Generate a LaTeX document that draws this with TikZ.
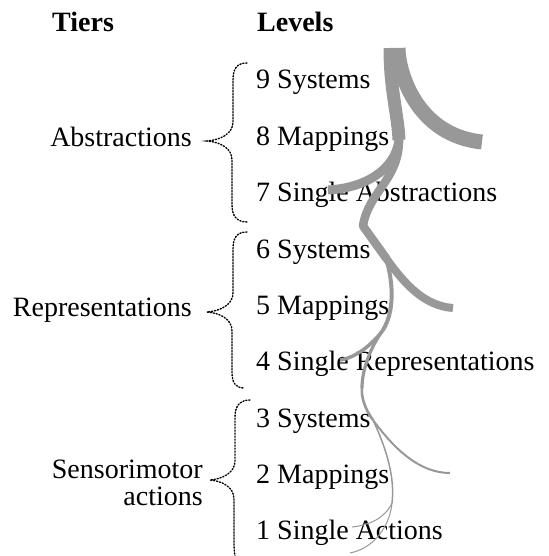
\documentclass[tikz,border=0pt]{standalone}
\usepackage{fontspec}
\setmainfont{Liberation Serif}
\begin{document}
\begin{tikzpicture}[x=1pt,y=-1pt,
  lbl/.style={anchor=base west,inner sep=0pt,font=\rmfamily\fontsize{28}{28}\selectfont},
  tier/.style={anchor=base east,inner sep=0pt,font=\rmfamily\fontsize{28}{28}\selectfont},
  head/.style={anchor=base west,inner sep=0pt,font=\rmfamily\fontsize{28}{28}\selectfont\bfseries},
  bracepath/.style={line width=1.4pt,dash pattern=on 1.2pt off 1.8pt,line cap=round},
  twig/.style={draw=treegray,line cap=butt}]
\definecolor{treegray}{RGB}{152,152,152}
\useasboundingbox (0,0) rectangle (548,556);

% headers
\node[head] (hT) at (52,32) {Tiers};
\node[head] (hL) at (257,32) {Levels};

% levels
\node[lbl] (l9) at (256,89) {9 Systems};
\node[lbl] (l8) at (256,145.3) {8 Mappings};
\node[lbl] (l7) at (256,201.6) {7 Single Abstractions};
\node[lbl] (l6) at (256,258) {6 Systems};
\node[lbl] (l5) at (256,314) {5 Mappings};
\node[lbl] (l4) at (256,370.5) {4 Single Representations};
\node[lbl] (l3) at (256,427) {3 Systems};
\node[lbl] (l2) at (256,483) {2 Mappings};
\node[lbl] (l1) at (256,539.5) {1 Single Actions};

% tiers
\node[tier] (tA) at (192,147) {Abstractions};
\node[tier] (tR) at (192,316) {Representations};
\node[tier] (tS) at (203,478) {Sensorimotor};
\node[tier] (tS2) at (203,505) {actions};

% braces
\draw[bracepath] (247,63) .. controls (236,63) and (233,70) .. (233,80) -- (233,122)
  .. controls (233,134) and (220,140) .. (207,141)
  .. controls (220,142) and (232,148) .. (232,160) -- (232,205)
  .. controls (232,215) and (236,222) .. (247,222);
\draw[bracepath] (247,232) .. controls (236,232) and (233,239) .. (233,249) -- (233,293)
  .. controls (233,305) and (220,311) .. (207,312)
  .. controls (220,313) and (232,319) .. (232,331) -- (232,372)
  .. controls (232,382) and (235,388) .. (244,388);
\draw[bracepath] (250,400) .. controls (239,400) and (235,407) .. (235,417) -- (235,461)
  .. controls (235,473) and (222,479) .. (210,480)
  .. controls (222,481) and (234,487) .. (234,499) -- (234,545)
  .. controls (234,555) and (236,562) .. (240,566);

% tree: tier 1
\coordinate (s1) at (390,48);
\coordinate (s1r) at (398,48);
\coordinate (p1) at (399,140);
\coordinate (r1) at (482,142);
\coordinate (a1) at (328,190);
\coordinate (e2) at (363,226);
\draw[twig,line width=15pt] (s1r) .. controls (398,70) and (415,135) .. (r1);
\draw[twig,line width=13pt] (s1) .. controls (390,90) and (398,115) .. (p1);
\draw[twig,line width=9pt] (p1) .. controls (395,170) and (365,188) .. (a1);
\draw[twig,line width=8.5pt,line join=round] (p1) .. controls (399,180) and (368,192) .. (e2);

% tier 2
\coordinate (p2) at (386,258);
\coordinate (r2) at (453,308);
\coordinate (q2) at (383,330);
\coordinate (a2) at (340,360);
\coordinate (e3) at (362,388);
\draw[twig,line width=8.5pt,line cap=round] (e2) -- (p2);
\draw[twig,line width=8pt] (p2) .. controls (405,285) and (425,306) .. (r2);
\draw[twig,line width=4pt] (p2) .. controls (394,285) and (394,312) .. (q2);
\draw[twig,line width=3.5pt] (q2) .. controls (372,345) and (355,358) .. (a2);
\draw[twig,line width=3.2pt] (q2) .. controls (370,348) and (362,370) .. (e3);

% tier 3
\coordinate (p3) at (373,420);
\coordinate (r3) at (450,473);
\coordinate (q3) at (392,503);
\coordinate (a3) at (352,527);
\coordinate (b3) at (350,553);
\draw[twig,line width=2.6pt] (e3) .. controls (361,395) and (364,408) .. (p3);
\draw[twig,line width=2pt] (p3) .. controls (395,450) and (420,473) .. (r3);
\draw[twig,line width=1.5pt] (p3) .. controls (387,450) and (395,478) .. (q3);
\draw[twig,line width=1pt] (q3) .. controls (385,518) and (370,525) .. (a3);
\draw[twig,line width=1pt] (q3) .. controls (390,525) and (375,548) .. (b3);
\end{tikzpicture}
\end{document}
